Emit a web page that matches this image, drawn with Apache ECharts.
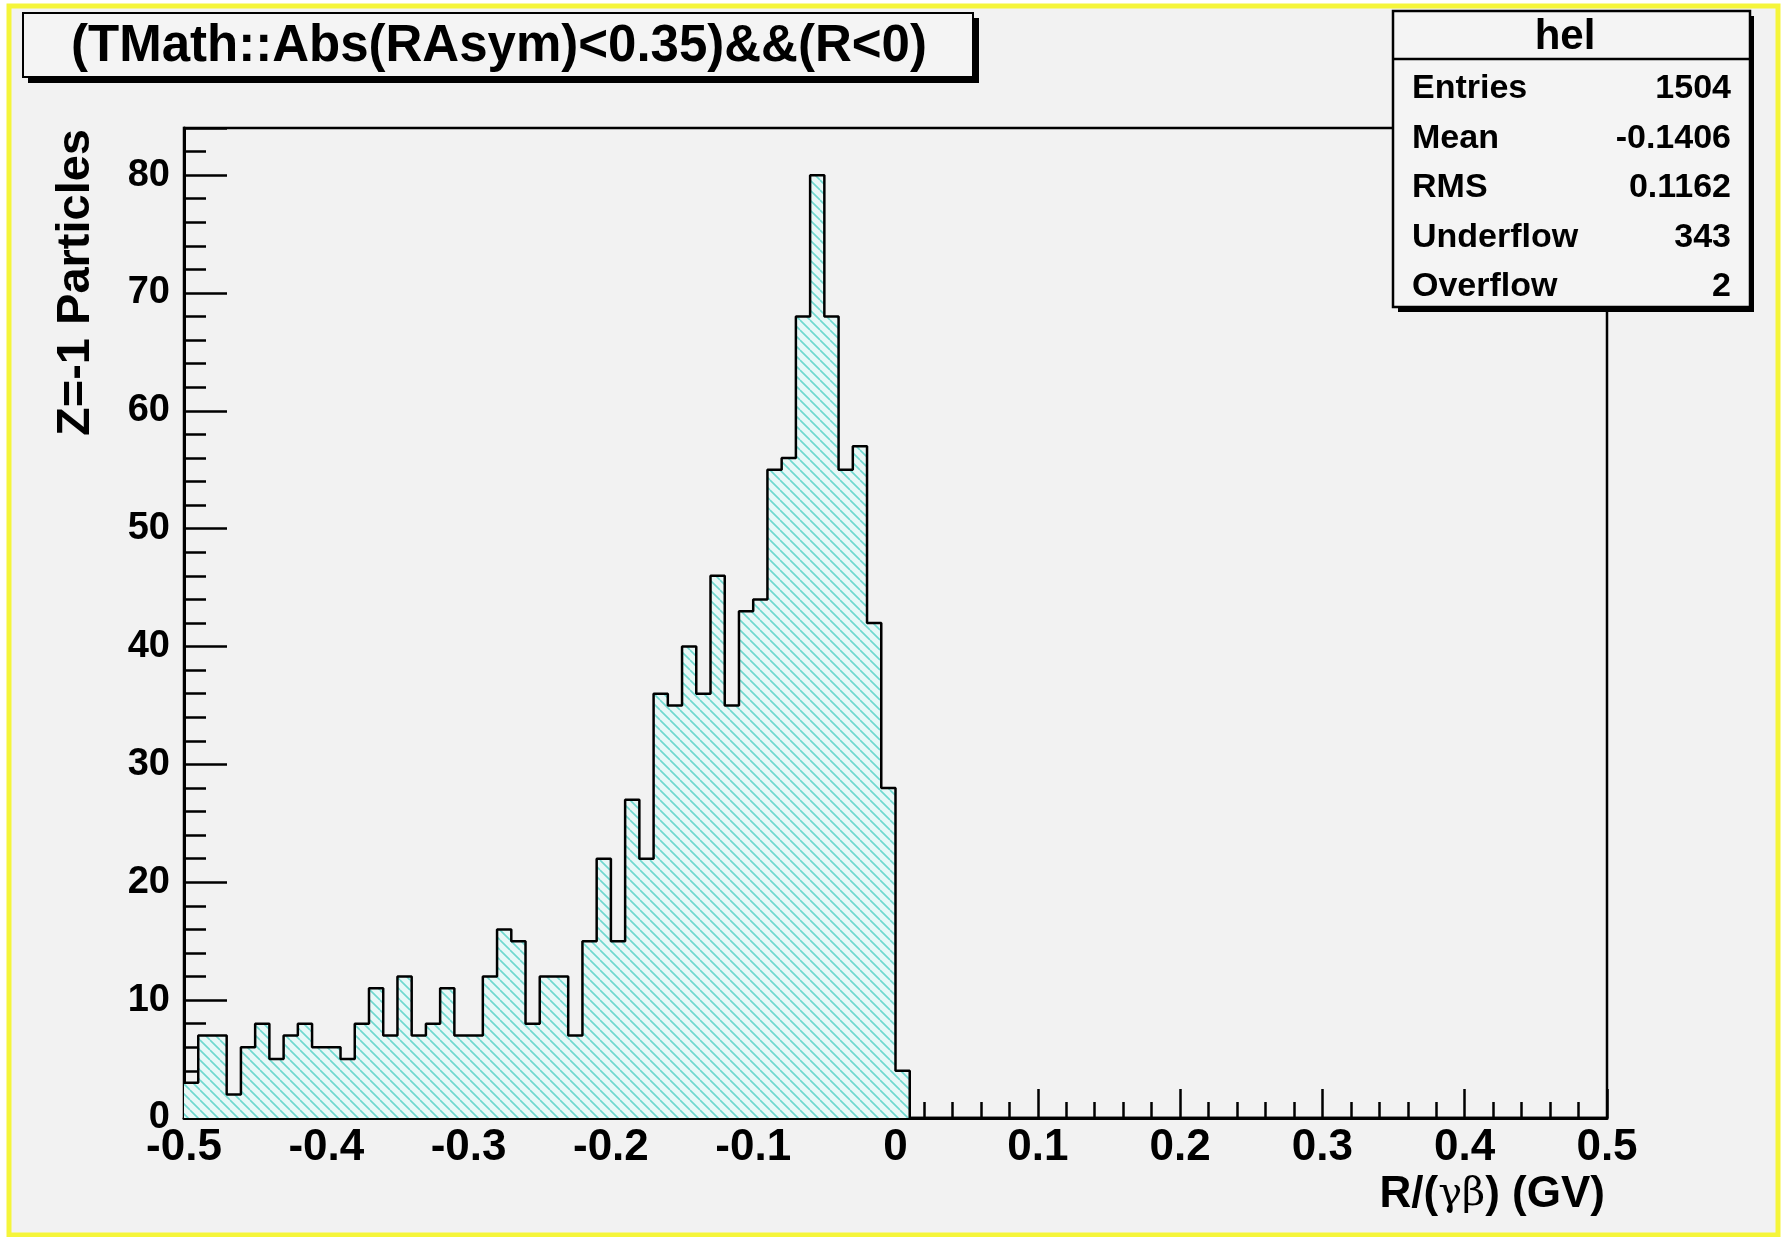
<!DOCTYPE html>
<html>
<head>
<meta charset="utf-8">
<script src="https://cdn.jsdelivr.net/npm/echarts@6/dist/echarts.min.js"></script>
<style>html,body{margin:0;padding:0;background:#fff;}#c{width:1781px;height:1237px;}</style>
</head>
<body>
<div id="c"></div>
<script>
// ---- data ----
const histRange = [-0.5, 0.5];
const counts = [
  3, 7, 7, 2, 6, 8, 5, 7, 8, 6,
  6, 5, 8, 11, 7, 12, 7, 8, 11, 7,
  7, 12, 16, 15, 8, 12, 12, 7, 15, 22,
  15, 27, 22, 36, 35, 40, 36, 46, 35, 43,
  44, 55, 56, 68, 80, 68, 55, 57, 42, 28,
  4, 0, 0, 0, 0, 0, 0, 0, 0, 0,
  0, 0, 0, 0, 0, 0, 0, 0, 0, 0,
  0, 0, 0, 0, 0, 0, 0, 0, 0, 0,
  0, 0, 0, 0, 0, 0, 0, 0, 0, 0,
  0, 0, 0, 0, 0, 0, 0, 0, 0, 0
];
const yRange = [0, 84];
const titleText = '(TMath::Abs(RAsym)<0.35)&&(R<0)';
const statsTitle = 'hel';
const statsNames = ['Entries', 'Mean', 'RMS', 'Underflow', 'Overflow'];
const statsValues = ['1504', '-0.1406', '0.1162', '343', '2'];
const xTitle = ['R/(', 'γβ', ') (GV)'];
const yTitle = 'Z=-1 Particles';

// ---- build ----
const nBins = counts.length;
const bw = (histRange[1] - histRange[0]) / nBins;
const stepData = counts.map((c, i) => [+(histRange[0] + i * bw).toFixed(6), c]);
stepData.push([histRange[1], counts[nBins - 1]]);

function hatch() {
  const s = 10;
  const cv = document.createElement('canvas');
  cv.width = s; cv.height = s;
  const g = cv.getContext('2d');
  g.fillStyle = '#e9f8f7';
  g.fillRect(0, 0, s, s);
  g.strokeStyle = '#6fd8cf';
  g.lineWidth = 1.6;
  g.beginPath();
  for (const k of [-s, 0, s]) { g.moveTo(k, 0); g.lineTo(k + s, s); }
  g.stroke();
  return cv;
}

const FONT = '"Liberation Sans", Arial, Helvetica, sans-serif';
const chart = echarts.init(document.getElementById('c'), null, {renderer: 'canvas'});

const statsGraphics = [];
statsNames.forEach((n, i) => {
  const y = 89 + i * 49.5;
  statsGraphics.push({type: 'text', z: 21, style: {text: n, x: 1412, y: y, font: 'bold 34px ' + FONT, fill: '#000', textAlign: 'left', align: 'left', textVerticalAlign: 'middle', verticalAlign: 'middle'}});
  statsGraphics.push({type: 'text', z: 21, style: {text: statsValues[i], x: 1731, y: y, font: 'bold 34px ' + FONT, fill: '#000', textAlign: 'right', align: 'right', textVerticalAlign: 'middle', verticalAlign: 'middle'}});
});

const option = {
  animation: false,
  backgroundColor: '#fff',
  grid: {left: 184, top: 128, right: 174, bottom: 119, show: true, borderColor: '#000', borderWidth: 2.5, backgroundColor: 'transparent', containLabel: false},
  xAxis: {
    type: 'value', min: histRange[0], max: histRange[1], interval: 0.1,
    axisLine: {show: true, onZero: false, lineStyle: {color: '#000', width: 3}},
    axisTick: {show: true, inside: true, length: 29, lineStyle: {color: '#000', width: 2.5}},
    minorTick: {show: true, splitNumber: 5, length: 16, lineStyle: {color: '#000', width: 2.5}},
    splitLine: {show: false},
    axisLabel: {fontSize: 44, fontWeight: 'bold', fontFamily: FONT, color: '#000', margin: 8}
  },
  yAxis: [
    {
      type: 'value', min: yRange[0], max: yRange[1], interval: 2, position: 'left',
      axisLine: {show: true, onZero: false, lineStyle: {color: '#000', width: 3}},
      axisTick: {show: true, inside: true, length: 22, lineStyle: {color: '#000', width: 2.5}},
      splitLine: {show: false},
      axisLabel: {fontSize: 38, fontWeight: 'bold', fontFamily: FONT, color: '#000', margin: 14,
        formatter: v => (v % 10 === 0 ? String(v) : '')}
    },
    {
      type: 'value', min: yRange[0], max: yRange[1], interval: 10, position: 'left',
      axisLine: {show: false, onZero: false},
      axisTick: {show: true, inside: true, length: 43, lineStyle: {color: '#000', width: 2.5}},
      splitLine: {show: false},
      axisLabel: {show: false}
    }
  ],
  series: [{
    type: 'line', step: 'end', data: stepData, symbol: 'none', yAxisIndex: 0,
    lineStyle: {color: '#000', width: 2.5},
    areaStyle: {color: {image: hatch(), repeat: 'repeat'}, opacity: 1},
    z: 3
  }],
  graphic: [
    {type: 'rect', z: -20, shape: {x: 0, y: 0, width: 1781, height: 1237}, style: {fill: '#ffffff'}},
    {type: 'rect', z: -19, shape: {x: 9, y: 6, width: 1769, height: 1229}, style: {fill: '#f2f2f2', stroke: '#f5f53a', lineWidth: 5}},
    // title box
    {type: 'rect', z: 20, shape: {x: 28, y: 18, width: 951, height: 65}, style: {fill: '#000'}},
    {type: 'rect', z: 20, shape: {x: 23, y: 13, width: 950, height: 64}, style: {fill: '#f4f4f4', stroke: '#000', lineWidth: 2}},
    {type: 'text', z: 21, style: {text: titleText, x: 499, y: 47, font: 'bold 51px ' + FONT, fill: '#000', textAlign: 'center', align: 'center', textVerticalAlign: 'middle', verticalAlign: 'middle'}},
    // stats box
    {type: 'rect', z: 20, shape: {x: 1398, y: 16, width: 356, height: 296}, style: {fill: '#000'}},
    {type: 'rect', z: 20, shape: {x: 1393, y: 11, width: 357, height: 296}, style: {fill: '#f4f4f4', stroke: '#000', lineWidth: 2.5}},
    {type: 'line', z: 21, shape: {x1: 1393, y1: 59, x2: 1750, y2: 59}, style: {stroke: '#000', lineWidth: 2.5}},
    {type: 'text', z: 21, style: {text: statsTitle, x: 1565, y: 37, font: 'bold 42px ' + FONT, fill: '#000', textAlign: 'center', align: 'center', textVerticalAlign: 'middle', verticalAlign: 'middle'}},
    ...statsGraphics,
    // axis titles
    {type: 'text', z: 21, rotation: Math.PI / 2, x: 76, y: 129, style: {text: yTitle, x: 0, y: 0, font: 'bold 47px ' + FONT, fill: '#000', textAlign: 'right', align: 'right', textVerticalAlign: 'middle', verticalAlign: 'middle'}},
    {type: 'text', z: 21, style: {
      text: '{a|' + xTitle[0] + '}{g|' + xTitle[1] + '}{a|' + xTitle[2] + '}',
      x: 1605, y: 1195, textAlign: 'right', align: 'right', textVerticalAlign: 'middle', verticalAlign: 'middle',
      rich: {a: {font: 'bold 44px ' + FONT, fill: '#000'}, g: {font: '40px "DejaVu Serif", serif', fill: '#000'}}
    }}
  ]
};
chart.setOption(option);
</script>
</body>
</html>
